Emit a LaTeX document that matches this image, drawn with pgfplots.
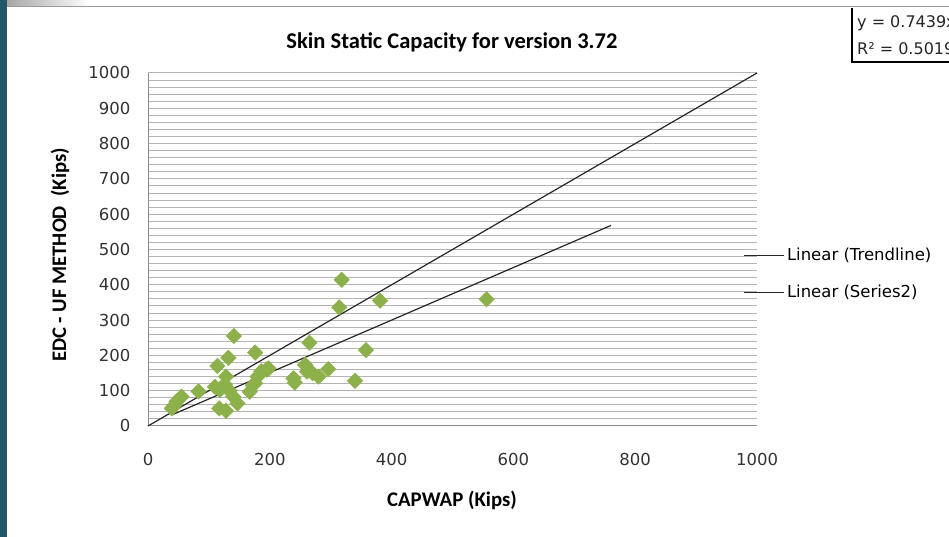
\documentclass[border=0pt]{standalone}
\usepackage{pgfplots}
\pgfplotsset{compat=1.18}
\usepackage{fontspec}
\setmainfont{DejaVu Sans}
\newfontfamily\calibri{Carlito}
\definecolor{sideteal}{HTML}{1F5868}
\definecolor{markgreen}{HTML}{8DB14A}
\definecolor{gridgray}{HTML}{B4B4B4}
\definecolor{axgray}{HTML}{8C8C8C}

\pgfplotstableread{
x y
39 50
43 58
47 69
55 83
83 98
110 111
118 102
126 118
128 140
114 170
132 193
141 255
117 50
128 43
147 64
140 83
134 100
167 97
172 115
176 121
180 140
186 155
195 160
198 163
176 208
239 135
241 123
258 173
261 154
270 150
265 236
280 140
296 161
318 414
314 336
381 355
340 128
358 215
556 359
}\capdata

\begin{document}
\begin{tikzpicture}[x=1bp,y=1bp]
\clip (0,0) rectangle (949,537);
\fill[white] (0,0) rectangle (949,537);
% window decoration
\fill[sideteal] (0,0) rectangle (7,537);
\shade[left color=gray!70, right color=white] (7,531) rectangle (90,537);
\draw[gray!80, line width=1.2bp] (7,530.5) -- (949,530.5);

\begin{axis}[
  at={(148bp,111bp)}, anchor=south west,
  scale only axis, width=609bp, height=353bp,
  xmin=0, xmax=1000, ymin=0, ymax=1000,
  axis x line*=bottom, axis y line*=left,
  axis line style={draw=axgray, line width=1bp},
  xtick={0,200,...,1000}, ytick={0,100,...,1000},
  minor ytick={0,20,...,1000},
  ymajorgrids, yminorgrids,
  major grid style={draw=gridgray, line width=1bp},
  minor grid style={draw=gridgray, line width=1bp},
  major tick length=0pt, minor tick length=0pt,
  /pgf/number format/assume math mode=true,
  /pgf/number format/1000 sep={},
  ticklabel style={font=\fontsize{16.5bp}{19bp}\selectfont, text=black!80},
  xticklabel style={yshift=-24bp},
  yticklabel style={xshift=-14bp},
  clip=false,
  legend style={draw=none, fill=none, at={(axis description cs:0.978,0.51)}, anchor=north west,
    font=\fontsize{16.5bp}{19bp}\selectfont, row sep=19bp, inner sep=0pt},
  legend cell align=left,
  legend image code/.code={\draw[#1] (0bp,0bp) -- (40bp,0bp);},
]
\addplot[only marks, mark=square*, mark size=5.5bp,
  mark options={rotate=45, fill=markgreen, draw=markgreen}, forget plot] table {\capdata};
\addplot[black!85, line width=1.2bp] coordinates {(0,0) (1000,1000)};
\addlegendentry{Linear (Trendline)}
\addplot[black!85, line width=1.2bp] coordinates {(40,32) (760,568)};
\addlegendentry{Linear (Series2)}
\end{axis}

\node[font=\calibri\bfseries\fontsize{22.5bp}{26bp}\selectfont] at (452,495) {Skin Static Capacity for version 3.72};
\node[font=\calibri\bfseries\fontsize{20.8bp}{24bp}\selectfont] at (452,37) {CAPWAP (Kips)};
\node[font=\calibri\bfseries\fontsize{20.7bp}{24bp}\selectfont, rotate=90] at (60,282) {EDC - UF METHOD\ \ (Kips)};

% equation box, cut at the right edge
\draw[black, line width=1.2bp] (852,529) -- (852,475) -- (960,475);
\node[anchor=west, font=\fontsize{16bp}{18bp}\selectfont, text=black!85, inner sep=0pt] at (857,514) {y = 0.7439x};
\node[anchor=west, font=\fontsize{16bp}{18bp}\selectfont, text=black!85, inner sep=0pt] at (857,488) {R² = 0.5019};
\end{tikzpicture}
\end{document}
